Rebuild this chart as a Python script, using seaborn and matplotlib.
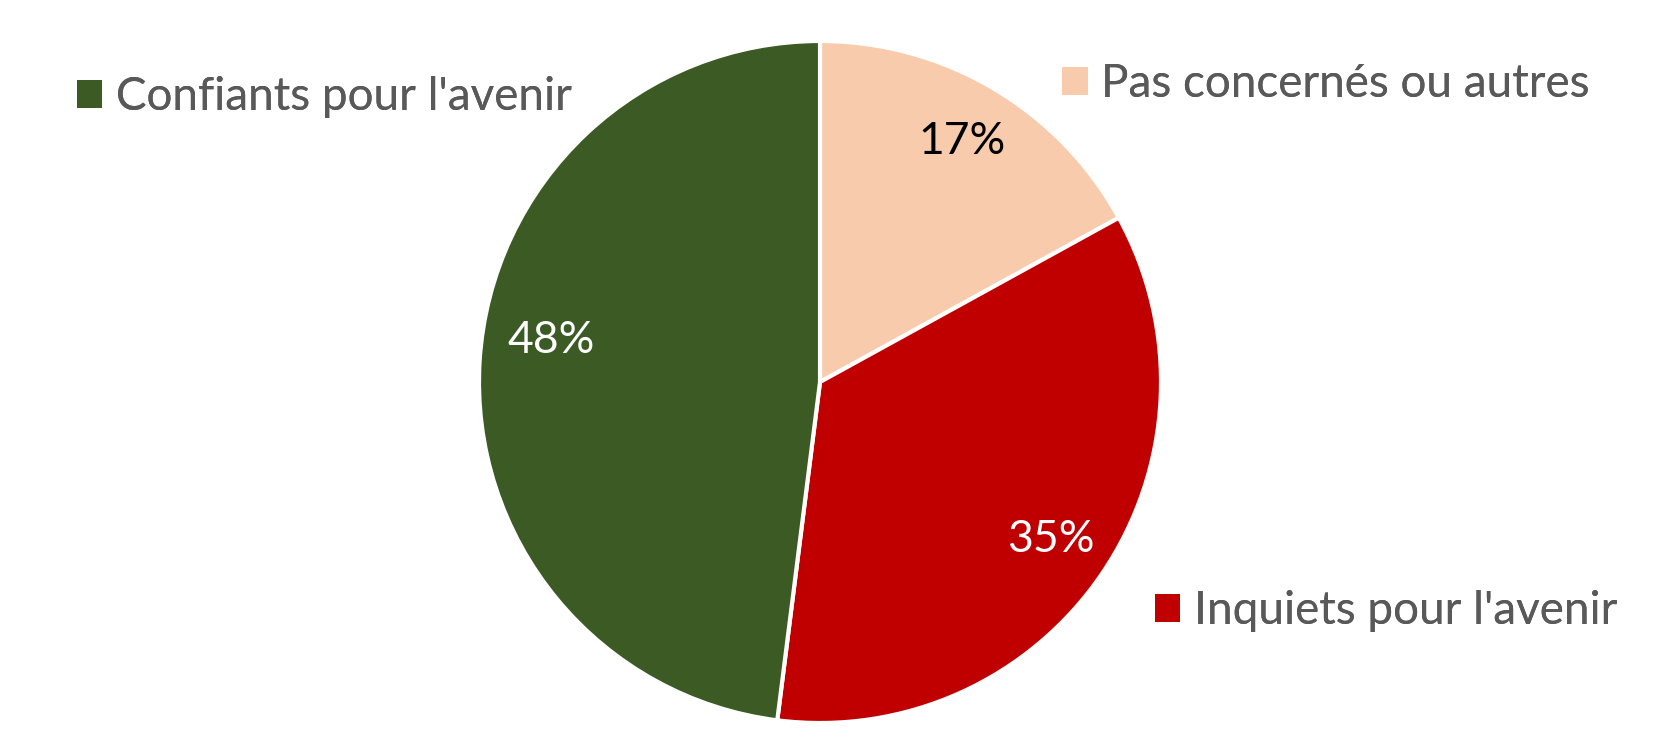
import seaborn as sns
import matplotlib.pyplot as plt

# Data (clockwise from 12 o'clock)
labels = ["Pas concernés ou autres", "Inquiets pour l'avenir", "Confiants pour l'avenir"]
values = [17, 35, 48]
colors = ["#F8CBAD", "#C00000", "#3B5A24"]
pct_colors = ["black", "white", "white"]

sns.set_theme(style="white")
plt.rcParams['font.family'] = ['Lato', 'DejaVu Sans']

fig = plt.figure(figsize=(16.81, 7.46), dpi=100)
ax = fig.add_axes([479 / 1681, 23 / 746, 682 / 1681, 682 / 746])

wedges, texts, autotexts = ax.pie(
    values, colors=colors, startangle=90, counterclock=False,
    autopct="%d%%", pctdistance=0.82,
    wedgeprops=dict(edgecolor="white", linewidth=3),
    textprops=dict(fontsize=32))
for t, c in zip(autotexts, pct_colors):
    t.set_color(c)
# Excel nudged the big slice's label upward a bit
x, y = autotexts[2].get_position()
autotexts[2].set_position((x + 0.03, y + 0.07))
ax.set_xlim(-1.0, 1.0)
ax.set_ylim(-1.0, 1.0)
ax.set_aspect("equal")

# one legend entry per corner, as in the original
spots = {
    "Confiants pour l'avenir": (0.0458, 0.870),
    "Pas concernés ou autres": (0.632, 0.887),
    "Inquiets pour l'avenir": (0.687, 0.181),
}
for w, lab in zip(wedges, labels):
    leg = fig.legend([w], [lab], loc="center left", bbox_to_anchor=spots[lab],
                     frameon=False, fontsize=33, handlelength=0.55, handleheight=0.55,
                     handletextpad=0.3, borderpad=0, borderaxespad=0)
    for t in leg.get_texts():
        t.set_color("#595959")
    for h in leg.legend_handles:
        h.set_linewidth(0)
    fig.add_artist(leg)

fig.savefig("out.png", dpi=100)
